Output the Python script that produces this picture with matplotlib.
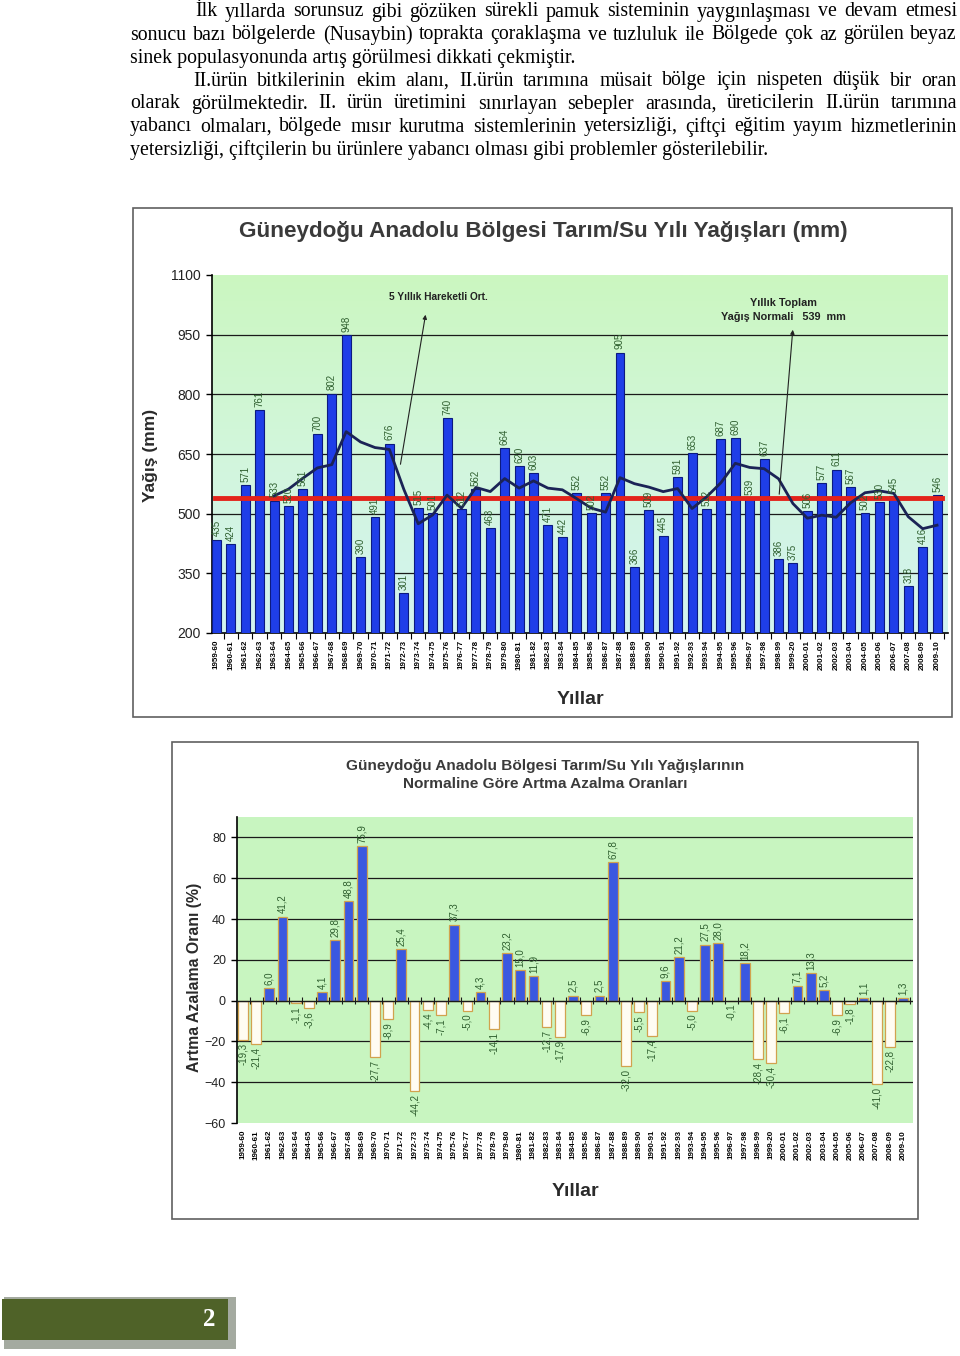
"""Rainfall page: paragraph + two charts (annual rainfall, deviation from normal)."""

import matplotlib
matplotlib.use("Agg")
import matplotlib.pyplot as plt
import matplotlib.patches as mpatches
from matplotlib.colors import LinearSegmentedColormap
import numpy as np
import pandas as pd

W, H = 960, 1356

years = ["1959-60", "1960-61", "1961-62", "1962-63", "1963-64", "1964-65", "1965-66",
         "1966-67", "1967-68", "1968-69", "1969-70", "1970-71", "1971-72", "1972-73",
         "1973-74", "1974-75", "1975-76", "1976-77", "1977-78", "1978-79", "1979-80",
         "1980-81", "1981-82", "1982-83", "1983-84", "1984-85", "1985-86", "1986-87",
         "1987-88", "1988-89", "1989-90", "1990-91", "1991-92", "1992-93", "1993-94",
         "1994-95", "1995-96", "1996-97", "1997-98", "1998-99", "1999-20", "2000-01",
         "2001-02", "2002-03", "2003-04", "2004-05", "2005-06", "2006-07", "2007-08",
         "2008-09", "2009-10"]

rain = [435, 424, 571, 761, 533, 520, 561, 700, 802, 948, 390, 491, 676, 301,
        515, 501, 740, 512, 562, 463, 664, 620, 603, 471, 442, 552, 502, 552,
        905, 366, 509, 445, 591, 653, 512, 687, 690, 539, 637, 386, 375, 506,
        577, 611, 567, 502, 530, 545, 318, 416, 546]

pct = [-19.3, -21.4, 6.0, 41.2, -1.1, -3.6, 4.1, 29.8, 48.8, 75.9, -27.7, -8.9,
       25.4, -44.2, -4.4, -7.1, 37.3, -5.0, 4.3, -14.1, 23.2, 15.0, 11.9, -12.7,
       -17.9, 2.5, -6.9, 2.5, 67.8, -32.0, -5.5, -17.4, 9.6, 21.2, -5.0, 27.5,
       28.0, -0.1, 18.2, -28.4, -30.4, -6.1, 7.1, 13.3, 5.2, -6.9, -1.8, 1.1,
       -41.0, -22.8, 1.3]

normal = 539

paragraph = [
    (195, 12, "İlk yıllarda sorunsuz gibi gözüken sürekli pamuk sisteminin yaygınlaşması ve devam etmesi", True),
    (130, 35, "sonucu bazı bölgelerde (Nusaybin) toprakta çoraklaşma ve tuzluluk ile Bölgede çok az görülen beyaz", True),
    (130, 58, "sinek populasyonunda artış görülmesi dikkati çekmiştir.", False),
    (193, 81, "II.ürün bitkilerinin ekim alanı, II.ürün tarımına müsait bölge için nispeten düşük bir oran", True),
    (130, 104, "olarak görülmektedir. II. ürün üretimini sınırlayan sebepler arasında, üreticilerin II.ürün tarımına", True),
    (130, 127, "yabancı olmaları, bölgede mısır kurutma sistemlerinin yetersizliği, çiftçi eğitim yayım hizmetlerinin", True),
    (130, 150, "yetersizliği, çiftçilerin bu ürünlere yabancı olması gibi problemler gösterilebilir.", False),
]


def fx(x):
    return x / W


def fy(y):
    return 1 - y / H


plt.rcParams["font.family"] = "Liberation Sans"

fig = plt.figure(figsize=(W / 100, H / 100), dpi=100)
fig.patch.set_facecolor("white")
renderer = fig.canvas.get_renderer()

# ---- paragraph (justified) ----
PFONT = dict(family="Liberation Serif", fontsize=14.3, color="black", va="center")
RIGHT = 957
for x0, y, line, justify in paragraph:
    if not justify:
        fig.text(fx(x0), fy(y), line, **PFONT)
        continue
    words = line.split(" ")
    arts = [fig.text(0, 0, w, **PFONT) for w in words]
    widths = [a.get_window_extent(renderer).width for a in arts]
    gap = (RIGHT - x0 - sum(widths)) / (len(words) - 1)
    cx = x0
    for a, wd in zip(arts, widths):
        a.set_position((fx(cx), fy(y)))
        cx += wd + gap

# ---- frames ----
fig.add_artist(mpatches.Rectangle((fx(133), fy(717)), (952 - 133) / W, (717 - 208) / H,
                                  transform=fig.transFigure, fill=False,
                                  edgecolor="#606060", lw=1.2))
fig.add_artist(mpatches.Rectangle((fx(172), fy(1219)), (918 - 172) / W, (1219 - 742) / H,
                                  transform=fig.transFigure, fill=False,
                                  edgecolor="#606060", lw=1.2))

x = np.arange(len(years))
TXT_GREEN = "#2f5f2f"

# ---- chart 1: annual rainfall ----
ax1 = fig.add_axes([fx(212), fy(633), (948 - 212) / W, (633 - 275) / H])
xl1 = (-0.31, 50.76)
grad = LinearSegmentedColormap.from_list("bg1", ["#cbf7c0", "#d2f6dc", "#d3f3f0"])
ax1.imshow(np.linspace(0, 1, 256).reshape(-1, 1), cmap=grad, aspect="auto",
           extent=[xl1[0], xl1[1], 200, 1100], zorder=0)
for g in [350, 500, 650, 800, 950]:
    ax1.axhline(g, color="#1a1a1a", lw=0.9, zorder=1)
ax1.bar(x, rain, width=0.62, color="#1f3ee8", edgecolor="#0c1a80", lw=0.8, zorder=3)
for i, v in enumerate(rain):
    ax1.text(i, v + 8, str(v), rotation=90, ha="center", va="bottom",
             fontsize=7, color=TXT_GREEN, zorder=6)
ax1.plot([x[0] - 0.1, x[-1] + 0.35], [normal, normal], color="#e3231b", lw=3.5, zorder=4)
ma = pd.Series(rain).rolling(5).mean()
ax1.plot(x, ma, color="#1b2356", lw=2, zorder=5)

ax1.set_xlim(*xl1)
ax1.set_ylim(200, 1100)
ax1.set_yticks([200, 350, 500, 650, 800, 950, 1100])
ax1.tick_params(axis="y", labelsize=10, length=4, width=1, pad=4, labelcolor="#222222")
ax1.set_xticks(x)
ax1.set_xticklabels(years, rotation=90, fontsize=5.8, fontweight="bold")
ax1.tick_params(axis="x", which="major", length=0, pad=5)
ax1.set_xticks(x + 0.5, minor=True)
ax1.tick_params(axis="x", which="minor", length=4, width=0.8)
for s in ["top", "right"]:
    ax1.spines[s].set_visible(False)
ax1.spines["left"].set_linewidth(1.2)
ax1.spines["bottom"].set_linewidth(1.2)

fig.text(fx(543), fy(231), "Güneydoğu Anadolu Bölgesi Tarım/Su Yılı Yağışları (mm)",
         ha="center", va="center", fontsize=16.2, fontweight="bold", color="#3a3a3a")
fig.text(fx(150), fy(455), "Yağış (mm)", rotation=90, ha="center", va="center",
         fontsize=12.5, fontweight="bold", color="#2a2a2a")
fig.text(fx(580), fy(699), "Yıllar", ha="center", va="center",
         fontsize=14, fontweight="bold", color="#2a2a2a")

fig.text(fx(438), fy(297), "5 Yıllık Hareketli Ort.", ha="center", va="center",
         fontsize=7.3, fontweight="bold", color="#222222")
fig.text(fx(783), fy(303), "Yıllık Toplam", ha="center", va="center",
         fontsize=7.8, fontweight="bold", color="#222222")
fig.text(fx(783), fy(317), "Yağış Normali   539  mm", ha="center", va="center",
         fontsize=7.8, fontweight="bold", color="#222222")
for (x_from, y_from), (x_to, y_to) in [((400, 467), (426, 312)), ((779, 497), (793, 327))]:
    fig.add_artist(mpatches.FancyArrowPatch((fx(x_from), fy(y_from)), (fx(x_to), fy(y_to)),
                                            transform=fig.transFigure, arrowstyle="-|>",
                                            mutation_scale=6, lw=0.8, color="#222222",
                                            zorder=10))

# ---- chart 2: deviation from normal ----
ax2 = fig.add_axes([fx(237), fy(1123), (913 - 237) / W, (1123 - 817) / H])
ax2.set_facecolor("#c8f5c0")
for g in [-40, -20, 20, 40, 60, 80]:
    ax2.axhline(g, color="#1a1a1a", lw=0.9, zorder=1)
pos_col = ["#3a58e0" if v >= 0 else "#fffcf2" for v in pct]
ax2.bar(x, pct, width=0.74, color=pos_col, edgecolor="#d1a24e", lw=0.9, zorder=3)
ax2.axhline(0, color="#1a1a1a", lw=1.0, zorder=4)
ax2.vlines(x + 0.5, -1.6, 1.6, color="#1a1a1a", lw=0.8, zorder=4)
for i, v in enumerate(pct):
    lbl = f"{v:.1f}".replace(".", ",")
    if v >= 0:
        ax2.text(i, v + 1.5, lbl, rotation=90, ha="center", va="bottom",
                 fontsize=7, color=TXT_GREEN, zorder=6)
    else:
        ax2.text(i, v - 1.5, lbl, rotation=90, ha="center", va="top",
                 fontsize=7, color=TXT_GREEN, zorder=6)

ax2.set_xlim(-0.45, 50.75)
ax2.set_ylim(-60, 90)
ax2.set_yticks([-60, -40, -20, 0, 20, 40, 60, 80])
ax2.tick_params(axis="y", labelsize=9, length=4, width=1, pad=4, labelcolor="#222222")
ax2.set_xticks(x)
ax2.set_xticklabels(years, rotation=90, fontsize=5.8, fontweight="bold")
ax2.tick_params(axis="x", length=0, pad=5)
for s in ["top", "right", "bottom"]:
    ax2.spines[s].set_visible(False)
ax2.spines["left"].set_linewidth(1.2)

fig.text(fx(545), fy(766), "Güneydoğu Anadolu Bölgesi Tarım/Su Yılı Yağışlarının",
         ha="center", va="center", fontsize=11.1, fontweight="bold", color="#3a3a3a")
fig.text(fx(545), fy(784), "Normaline Göre Artma Azalma Oranları",
         ha="center", va="center", fontsize=11.1, fontweight="bold", color="#3a3a3a")
fig.text(fx(194), fy(977), "Artma Azalama Oranı (%)", rotation=90, ha="center", va="center",
         fontsize=11.4, fontweight="bold", color="#2a2a2a")
fig.text(fx(575), fy(1192), "Yıllar", ha="center", va="center",
         fontsize=14, fontweight="bold", color="#2a2a2a")

# ---- footer ----
fig.add_artist(mpatches.Rectangle((fx(4), fy(1349)), 232 / W, 52 / H,
                                  transform=fig.transFigure, color="#a4aaa0", lw=0))
fig.add_artist(mpatches.Rectangle((fx(2), fy(1340)), 226 / W, 41 / H,
                                  transform=fig.transFigure, color="#4f6228", lw=0))
fig.text(fx(209), fy(1320), "2", ha="center", va="center", fontsize=18,
         fontweight="bold", family="Liberation Serif", color="white")

fig.savefig("out.png", dpi=100)
